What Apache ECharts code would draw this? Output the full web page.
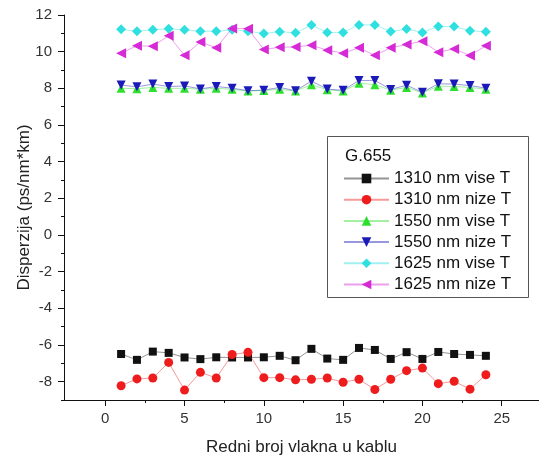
<!DOCTYPE html>
<html>
<head>
<meta charset="utf-8">
<script src="https://cdn.jsdelivr.net/npm/echarts@6/dist/echarts.min.js"></script>
<style>
  html, body { margin: 0; padding: 0; background: #fff; }
  #chart { width: 539px; height: 461px; }
</style>
</head>
<body>
<div id="chart"></div>
<script>
// Fibre index in the cable
const fibreIndex = [1,2,3,4,5,6,7,8,9,10,11,12,13,14,15,16,17,18,19,20,21,22,23,24];

// Dispersion (ps/nm*km) per fibre
const d1310High = [-6.49,-6.81,-6.36,-6.43,-6.68,-6.77,-6.67,-6.68,-6.68,-6.67,-6.59,-6.83,-6.21,-6.74,-6.81,-6.16,-6.27,-6.76,-6.39,-6.76,-6.38,-6.49,-6.54,-6.59];
const d1310Low  = [-8.22,-7.85,-7.80,-6.95,-8.46,-7.49,-7.80,-6.52,-6.40,-7.78,-7.78,-7.90,-7.87,-7.80,-8.03,-7.87,-8.43,-7.87,-7.40,-7.26,-8.11,-7.98,-8.41,-7.62];
const d1550High = [8.00,7.98,8.05,8.00,8.00,7.95,8.00,7.95,7.85,7.88,7.95,7.85,8.20,7.92,7.85,8.28,8.20,7.90,8.05,7.75,8.12,8.10,8.05,7.95];
const d1550Low  = [8.18,8.08,8.23,8.10,8.13,7.97,8.10,8.01,7.87,7.90,8.05,7.87,8.39,7.96,7.89,8.43,8.43,7.94,8.17,7.78,8.25,8.23,8.15,8.01];
const d1625High = [11.22,11.11,11.19,11.25,11.19,11.12,11.11,11.20,11.12,10.99,11.09,11.03,11.45,11.05,11.05,11.46,11.46,11.10,11.23,11.05,11.37,11.37,11.14,11.08];
const d1625Low  = [9.92,10.32,10.30,10.87,9.80,10.53,10.21,11.27,11.25,10.12,10.24,10.26,10.35,10.08,9.92,10.21,9.80,10.21,10.39,10.57,9.97,10.15,9.79,10.32];

const seriesNames = ['1310 nm vise T','1310 nm nize T','1550 nm vise T','1550 nm nize T','1625 nm vise T','1625 nm nize T'];
const seriesValues = [d1310High, d1310Low, d1550High, d1550Low, d1625High, d1625Low];

// Axis tick labels
const xMajorTicks = [0,5,10,15,20,25];
const xMinorTicks = [2.5,7.5,12.5,17.5,22.5];
const yMajorTicks = [-8,-6,-4,-2,0,2,4,6,8,10,12];
const yMinorTicks = [-9,-7,-5,-3,-1,1,3,5,7,9,11];

const legendTitle = 'G.655';
const xTitle = 'Redni broj vlakna u kablu';
const yTitle = 'Disperzija (ps/nm*km)';

const styles = [
  { color: '#111111', symbol: 'rect', size: 8, rotate: 0 },
  { color: '#ee1c1c', symbol: 'circle', size: 9, rotate: 0 },
  { color: '#2ee02e', symbol: 'triangle', size: 9, rotate: 0 },
  { color: '#1a1ab8', symbol: 'triangle', size: 9, rotate: 180 },
  { color: '#30e0e0', symbol: 'diamond', size: 10, rotate: 0 },
  { color: '#d52ad5', symbol: 'triangle', size: 10, rotate: 90 }
];

const FONT = '"Liberation Sans", Arial, sans-serif';
const X_MIN = -2.6, X_MAX = 27.35, Y_MIN = -9, Y_MAX = 12;

const series = seriesNames.map((name, k) => ({
  name: name,
  type: 'line',
  xAxisIndex: 0,
  yAxisIndex: 0,
  data: fibreIndex.map((x, i) => [x, seriesValues[k][i]]),
  symbol: styles[k].symbol,
  symbolSize: styles[k].size,
  symbolRotate: styles[k].rotate,
  showAllSymbol: true,
  itemStyle: { color: styles[k].color, opacity: 1 },
  lineStyle: { color: styles[k].color, width: 1, opacity: 0.45 },
  emphasis: { disabled: true },
  animation: false,
  z: 2 + k
}));

const tickLine = { color: '#111', width: 1 };

const chart = echarts.init(document.getElementById('chart'), null, { renderer: 'canvas' });
chart.setOption({
  backgroundColor: '#ffffff',
  animation: false,
  grid: { left: 64, right: 0, top: 15, bottom: 57, containLabel: false },
  xAxis: [
    {
      type: 'value', min: X_MIN, max: X_MAX, position: 'bottom',
      splitLine: { show: false },
      axisLine: { show: true, onZero: false, lineStyle: { color: '#111', width: 1 } },
      name: xTitle, nameLocation: 'middle', nameGap: 39, nameMoveOverlap: false,
      nameTextStyle: { fontFamily: FONT, fontSize: 17, color: '#222' },
      axisTick: { show: true, length: 6, customValues: xMajorTicks, lineStyle: tickLine },
      axisLabel: { customValues: xMajorTicks, margin: 11, fontFamily: FONT, fontSize: 15, color: '#333' }
    },
    {
      type: 'value', min: X_MIN, max: X_MAX, position: 'bottom',
      splitLine: { show: false },
      axisLine: { show: false, onZero: false },
      axisTick: { show: true, length: 3, customValues: xMinorTicks, lineStyle: tickLine },
      axisLabel: { show: false }
    }
  ],
  yAxis: [
    {
      type: 'value', min: Y_MIN, max: Y_MAX, position: 'left',
      splitLine: { show: false },
      axisLine: { show: true, onZero: false, lineStyle: { color: '#111', width: 1 } },
      name: yTitle, nameLocation: 'middle', nameGap: 31, nameRotate: 90, nameMoveOverlap: false,
      nameTextStyle: { fontFamily: FONT, fontSize: 17, color: '#222' },
      axisTick: { show: true, length: 6, customValues: yMajorTicks, lineStyle: tickLine },
      axisLabel: { customValues: yMajorTicks, margin: 12, fontFamily: FONT, fontSize: 15, color: '#333' }
    },
    {
      type: 'value', min: Y_MIN, max: Y_MAX, position: 'left',
      splitLine: { show: false },
      axisLine: { show: false, onZero: false },
      axisTick: { show: true, length: 3, customValues: yMinorTicks, lineStyle: tickLine },
      axisLabel: { show: false }
    }
  ],
  legend: {
    data: seriesNames,
    orient: 'vertical',
    left: 343,
    top: 170,
    padding: 0,
    itemWidth: 45,
    itemHeight: 12,
    itemGap: 4.2,
    selectedMode: false,
    textStyle: { fontFamily: FONT, fontSize: 17, lineHeight: 17, color: '#111' }
  },
  graphic: [
    {
      type: 'rect',
      shape: { x: 327.5, y: 136.5, width: 201, height: 161 },
      style: { fill: 'rgba(255,255,255,0)', stroke: '#555', lineWidth: 1 },
      z: 0
    },
    {
      type: 'text',
      left: 345,
      top: 148,
      style: { text: legendTitle, fontFamily: FONT, fontSize: 17, fill: '#111' },
      z: 10
    }
  ],
  series: series
});
</script>
</body>
</html>
